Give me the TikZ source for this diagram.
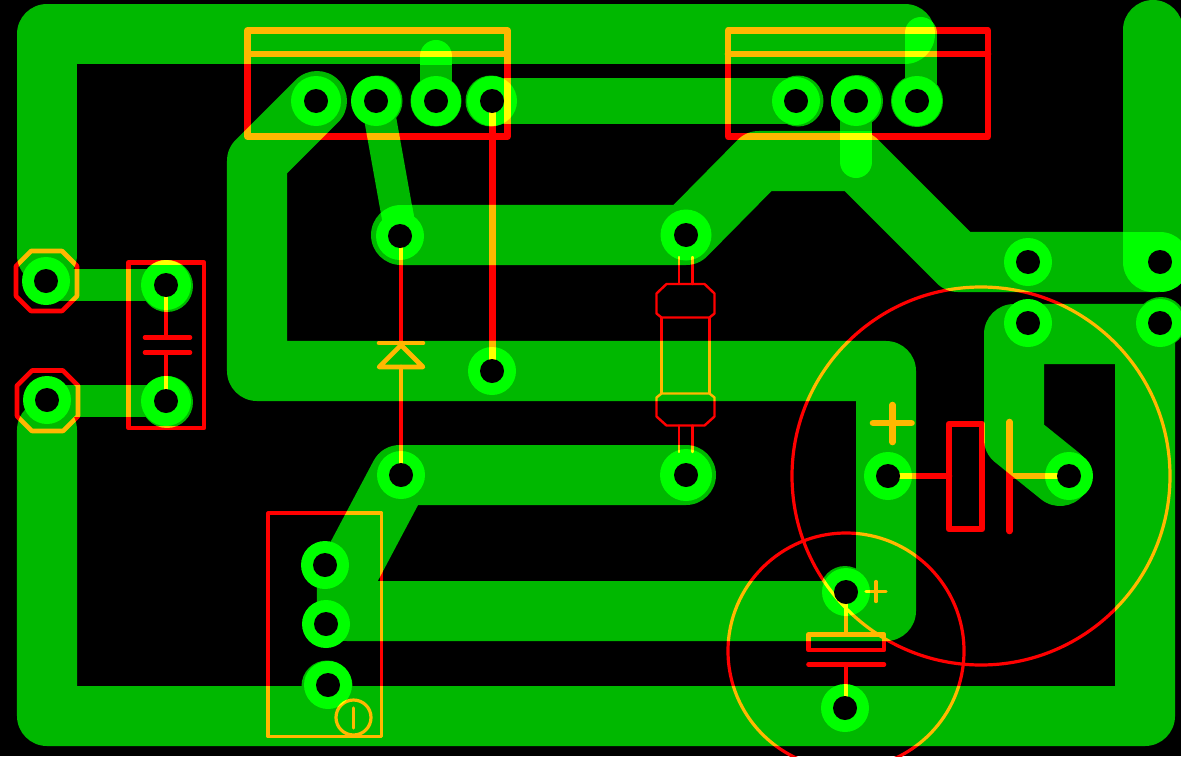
\documentclass[tikz,border=0pt]{standalone}
\usepackage{xcolor}
\definecolor{tracegreen}{RGB}{0,184,0}
\definecolor{padgreen}{RGB}{0,255,0}
\definecolor{silkred}{RGB}{255,0,0}
\tikzset{
    track/.style={color=tracegreen, line width=1.5cm, line cap=round, line join=round},
    midtrack/.style={color=tracegreen, line width=1.15cm, line cap=round, line join=round},
    thintrack/.style={color=tracegreen, line width=0.8cm, line cap=round, line join=round},
    brighttrack/.style={color=padgreen, line width=0.8cm, line cap=round, line join=round},
    silkthick/.style={color=silkred, line width=0.165cm, line cap=round, line join=round},
    silkmid/.style={color=silkred, line width=0.115cm, line cap=round, line join=round},
    silkthin/.style={color=silkred, line width=0.08cm, line cap=round, line join=round},
    silkfine/.style={color=silkred, line width=0.06cm, line cap=round, line join=round},
}

\begin{document}
\begin{tikzpicture}[x=0.025cm, y=-0.025cm]
    \useasboundingbox (0,0) rectangle (1181,756);
    \fill[black] (0,0) rectangle (1181,756);

    \draw[track] (905,34) -- (47,34) -- (47,255);
    \draw[track] (47,430) -- (47,716) -- (1145,716) -- (1145,334) -- (1014,334) -- (1014,439) -- (1060,476);
    \draw[track] (317,101) -- (257,161) -- (257,371) -- (886,371) -- (886,611) -- (347,611) -- (347,575) -- (400,475) -- (686,475);
    \draw[track] (401,235) -- (686,235) -- (759,161) -- (857,161) -- (958,262) -- (1160,262);
    \draw[track] (1153,30) -- (1153,262);
    \draw[midtrack] (492,101) -- (796,101);
    \draw[thintrack] (46,285) -- (166,285);
    \draw[thintrack] (47,401) -- (166,401);
    \draw[thintrack] (377,101) -- (401,235);
    \draw[thintrack] (436,56) -- (436,101);
    \draw[thintrack] (920.5,33) -- (920.5,85);
    \draw[thintrack] (856,101) -- (856,162);

    \begin{scope}
        \clip (410,20) rectangle (460,64);
        \draw[brighttrack] (436,56) -- (436,101);
    \end{scope}
    \begin{scope}
        \clip (905,34) circle (30);
        \draw[brighttrack] (920.5,33) -- (920.5,85);
    \end{scope}
    \begin{scope}
        \clip (830,131) rectangle (880,190);
        \draw[brighttrack] (856,101) -- (856,162);
    \end{scope}
    \begin{scope}
        \clip (401,235) circle (30);
        \draw[brighttrack] (377,101) -- (401,235);
    \end{scope}
    \begin{scope}
        \clip (401,205) rectangle (430,240);
        \draw[brighttrack] (377,101) -- (401,235);
    \end{scope}
    \begin{scope}
        \clip (1123,232) rectangle (1160,292);
        \fill[padgreen] (1153,262) circle (30);
        \fill[padgreen] (1123,232) rectangle (1160,262);
    \end{scope}
    \begin{scope}
        \clip (1160,262) circle (30);
        \fill[padgreen] (1160,232) rectangle (1183,292);
    \end{scope}

    \fill[tracegreen] (377,101) circle (25.5);
    \fill[tracegreen] (436,101) circle (25.5);
    \fill[tracegreen] (491,101) circle (25.5);
    \fill[tracegreen] (798,101) circle (25.5);
    \fill[tracegreen] (857,101) circle (26);
    \fill[tracegreen] (917,101) circle (26);
    \fill[tracegreen] (167,286) circle (26);
    \fill[tracegreen] (167,402) circle (26);
    \fill[tracegreen] (327,686) circle (25.5);
    \fill[tracegreen] (845,591) circle (25);
    \fill[tracegreen] (1161,322) circle (25);

    \fill[padgreen] (46,281) circle (24);
    \fill[padgreen] (47,400) circle (24);
    \fill[padgreen] (166,285) circle (25);
    \fill[padgreen] (166,401) circle (25);
    \fill[padgreen] (316,101) circle (25);
    \fill[padgreen] (376,101) circle (25);
    \fill[padgreen] (436,101) circle (25);
    \fill[padgreen] (492,101) circle (25);
    \fill[padgreen] (796,101) circle (24);
    \fill[padgreen] (856,101) circle (25);
    \fill[padgreen] (917,101) circle (25);
    \fill[padgreen] (400,236) circle (24);
    \fill[padgreen] (686,235) circle (25.5);
    \fill[padgreen] (492,371) circle (24);
    \fill[padgreen] (401,475) circle (24);
    \fill[padgreen] (686,475) circle (26);
    \fill[padgreen] (1028,262) circle (24);
    \fill[padgreen] (1028,323) circle (24);
    \fill[padgreen] (1160,262) circle (24);
    \fill[padgreen] (1160,323) circle (24);
    \fill[padgreen] (888,476) circle (24);
    \fill[padgreen] (1069,476) circle (24);
    \fill[padgreen] (846,592) circle (24);
    \fill[padgreen] (845,708) circle (24);
    \fill[padgreen] (325,565) circle (24);
    \fill[padgreen] (326,624) circle (24);
    \fill[padgreen] (328,685) circle (24);

    \begin{scope}[blend mode=screen]
        \draw[silkthick] (247.5,30.5) rectangle (507.5,136.5);
        \draw[silkthick] (247.5,54) -- (507.5,54);
        \draw[silkthick] (728,30.5) rectangle (988,136.5);
        \draw[silkthick] (728,54) -- (988,54);
        \draw[silkthick] (492.5,101) -- (492.5,371);

        \draw[silkmid] (128.5,262.5) rectangle (204,428);
        \draw[silkmid] (166,285) -- (166,337.5);
        \draw[silkmid] (145,337.5) -- (190,337.5);
        \draw[silkmid] (145,352.5) -- (190,352.5);
        \draw[silkmid] (166,352.5) -- (166,401);
        \draw[silkmid] (31,251) -- (62,251) -- (77,266) -- (77,296) -- (62,311) -- (31,311) -- (16,296) -- (16,266) -- cycle;
        \draw[silkmid] (32,370.5) -- (63,370.5) -- (78,385.5) -- (78,416) -- (63,431) -- (32,431) -- (17,416) -- (17,385.5) -- cycle;

        \draw[silkmid] (401,236) -- (401,343);
        \draw[silkmid] (379,343) -- (423,343);
        \draw[silkmid] (401,345) -- (423,367) -- (379,367) -- cycle;
        \draw[silkmid] (401,367) -- (401,475);

        \draw[silkfine] (679,257) -- (679,284);
        \draw[silkfine] (692.5,257) -- (692.5,284);
        \draw[silkfine] (666.5,284) -- (704.5,284) -- (714.5,293.5) -- (714.5,313.5) -- (709.5,317.5) -- (661.5,317.5) -- (656.5,313.5) -- (656.5,293.5) -- cycle;
        \draw[silkfine] (661.5,317.5) -- (661.5,393.5);
        \draw[silkfine] (709.5,317.5) -- (709.5,393.5);
        \draw[silkfine] (661.5,393.5) -- (709.5,393.5) -- (714.5,397.5) -- (714.5,416.5) -- (704.5,425.5) -- (666.5,425.5) -- (656.5,416.5) -- (656.5,397.5) -- cycle;
        \draw[silkfine] (679,425.5) -- (679,452);
        \draw[silkfine] (692.5,425.5) -- (692.5,452);

        \draw[silkthin] (268,513) rectangle (381.5,736.5);
        \draw[silkthin] (353.5,717.5) circle (17.5);
        \draw[silkthin] (353.5,708) -- (353.5,728);

        \draw[silkthin] (981,476) circle (189);
        \draw[silkthin] (846,651) circle (118);

        \draw[silkthick] (873,423) -- (911.5,423);
        \draw[silkthick] (892.5,405) -- (892.5,442);
        \draw[silkthick] (888,476) -- (949,476);
        \draw[silkthick] (949,424) rectangle (982,529);
        \draw[silkthick] (1009.5,422) -- (1009.5,531);
        \draw[silkthick] (1009.5,476) -- (1069,476);

        \draw[silkthin] (866,591.5) -- (886,591.5);
        \draw[silkthin] (876,581.5) -- (876,601.5);
        \draw[silkmid] (846,592) -- (846,634.5);
        \draw[silkmid] (808.5,634.5) rectangle (884,650);
        \draw[silkmid] (808.5,664.5) -- (884,664.5);
        \draw[silkmid] (846,664.5) -- (846,708);
    \end{scope}

    \fill[black] (46,281) circle (12);
    \fill[black] (47,400) circle (12);
    \fill[black] (166,285) circle (12);
    \fill[black] (166,401) circle (12);
    \fill[black] (316,101) circle (12);
    \fill[black] (376,101) circle (12);
    \fill[black] (436,101) circle (12);
    \fill[black] (492,101) circle (12);
    \fill[black] (796,101) circle (12);
    \fill[black] (856,101) circle (12);
    \fill[black] (917,101) circle (12);
    \fill[black] (400,236) circle (12);
    \fill[black] (686,235) circle (12);
    \fill[black] (492,371) circle (12);
    \fill[black] (401,475) circle (12);
    \fill[black] (686,475) circle (12);
    \fill[black] (1028,262) circle (12);
    \fill[black] (1028,323) circle (12);
    \fill[black] (1160,262) circle (12);
    \fill[black] (1160,323) circle (12);
    \fill[black] (888,476) circle (12);
    \fill[black] (1069,476) circle (12);
    \fill[black] (846,592) circle (12);
    \fill[black] (845,708) circle (12);
    \fill[black] (325,565) circle (12);
    \fill[black] (326,624) circle (12);
    \fill[black] (328,685) circle (12);
\end{tikzpicture}
\end{document}
